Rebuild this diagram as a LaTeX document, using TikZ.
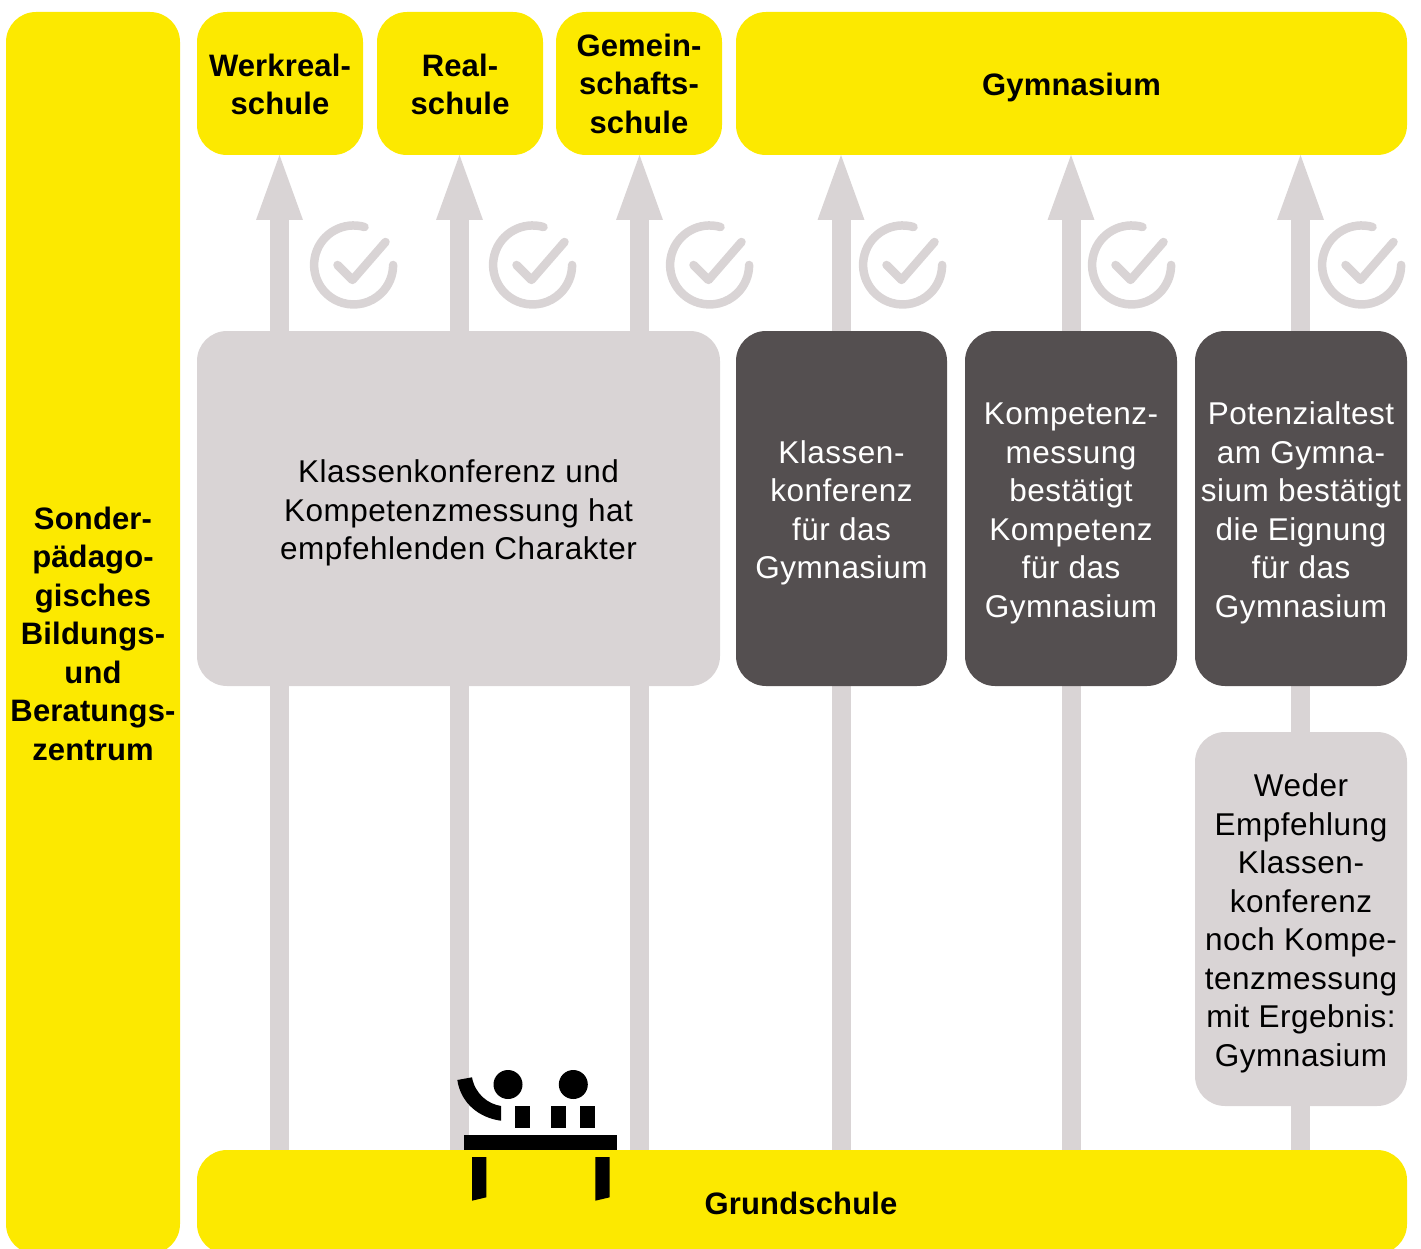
\documentclass[tikz,border=0pt]{standalone}
\usepackage{fontspec}
\setmainfont{Liberation Sans}[LetterSpace=1.6,BoldFeatures={LetterSpace=0.5}]
\usetikzlibrary{arrows.meta}
\definecolor{ylw}{HTML}{FCE900}
\definecolor{lgt}{HTML}{D9D4D5}
\definecolor{drk}{HTML}{544F50}
\tikzset{
  box/.style={rounded corners=30pt,inner sep=0pt,outer sep=0pt,align=center,anchor=north west},
  yellowbox/.style={box,fill=ylw,font=\fontsize{31}{38.5}\selectfont\bfseries},
  lightbox/.style={box,fill=lgt,text=black,font=\fontsize{31.5}{38.5}\selectfont},
  darkbox/.style={box,fill=drk,text=white,font=\fontsize{31.5}{38.5}\selectfont},
  route/.style={draw=lgt,line width=19pt,-{Triangle[width=47pt,length=65pt,line width=0pt]}},
  tick/.style={draw=lgt,line width=8.5pt,line cap=round,line join=round},
  ink/.style={fill=black},
}
% empty first line that pushes a centred block of text down
\newcommand{\lift}[1]{\mbox{}\\[\dimexpr #1pt-38.5pt\relax]}
\newcommand{\checkmarkat}[2]{%
  \draw[tick] (#1+11,#2-38) arc[start angle=-74,end angle=-360,radius=39.5];
  \draw[tick] (#1-16,#2) -- (#1-1,#2+15) -- (#1+32,#2-23);
}
\begin{document}
\begin{tikzpicture}[x=1pt,y=-1pt]
\useasboundingbox (0,0) rectangle (1421,1249);
\clip (0,0) rectangle (1421,1249);
% top targets and start
\node[yellowbox,minimum width=166pt,minimum height=143pt] (wr) at (197,12) {\lift{24}Werkreal-\\schule};
\node[yellowbox,minimum width=166pt,minimum height=143pt] (rs) at (377,12) {\lift{24}Real-\\schule};
\node[yellowbox,minimum width=166pt,minimum height=143pt] (gm) at (556,12) {Gemein-\\schafts-\\schule};
\node[yellowbox,minimum width=671pt,minimum height=143pt] (gy) at (736,12) {\lift{29.5}Gymnasium};
\node[box,fill=ylw,minimum width=1210pt,minimum height=104pt] (gsbg) at (197,1150) {};
\node[font=\fontsize{31}{38.5}\selectfont\bfseries,inner sep=0pt] (gs) at (801,1203) {Grundschule};
\node[yellowbox,minimum width=174pt,minimum height=1242pt] (sbz) at (6,12) {};
\node[font=\fontsize{31}{38.5}\selectfont\bfseries,align=center,inner sep=0pt] (sbztext) at (93,633.5) {Sonder-\\pädago-\\gisches\\Bildungs-\\und\\Beratungs-\\zentrum};
% routes
\coordinate (s1) at (279.5,1150);
\coordinate (s2) at (459.5,1150);
\coordinate (s3) at (639.5,1150);
\coordinate (s4) at (841,1150);
\coordinate (s5) at (1071,1150);
\coordinate (s6) at (1300.5,1150);
\draw[route] (s1) -- (s1 |- wr.south);
\draw[route] (s2) -- (s2 |- rs.south);
\draw[route] (s3) -- (s3 |- gm.south);
\draw[route] (s4) -- (s4 |- gy.south);
\draw[route] (s5) -- (s5 |- gy.south);
\draw[route] (s6) -- (s6 |- gy.south);
% boxes
\node[lightbox,minimum width=523pt,minimum height=355pt] (kk) at (197,331) {\lift{32}Klassenkonferenz und\\Kompetenzmessung hat\\empfehlenden Charakter};
\node[darkbox,minimum width=211pt,minimum height=355pt] (d1) at (736,331) {\lift{31.5}Klassen-\\konferenz\\für das\\Gymnasium};
\node[darkbox,minimum width=212pt,minimum height=355pt] (d2) at (965,331) {\lift{31.5}Kompetenz-\\messung\\bestätigt\\Kompetenz\\für das\\Gymnasium};
\node[darkbox,minimum width=212pt,minimum height=355pt] (d3) at (1195,331) {\lift{31.5}Potenzialtest\\am Gymna-\\sium bestätigt\\die Eignung\\für das\\Gymnasium};
\node[lightbox,minimum width=212pt,minimum height=374pt] (wd) at (1195,732) {\lift{31.5}Weder\\Empfehlung\\Klassen-\\konferenz\\noch Kompe-\\tenzmessung\\mit Ergebnis:\\Gymnasium};
% checks
\checkmarkat{353.5}{265}
\checkmarkat{532.5}{265}
\checkmarkat{709.5}{265}
\checkmarkat{902.5}{265}
\checkmarkat{1131.5}{265}
\checkmarkat{1361.5}{265}
% table icon
\fill[ink] (508,1084.5) circle[radius=14.5];
\fill[ink] (573.3,1084.5) circle[radius=14.5];
\fill[ink] (515,1106) rectangle (530,1128);
\fill[ink] (551,1106) rectangle (566,1128);
\fill[ink] (580,1106) rectangle (595,1128);
\fill[ink] (464,1135) rectangle (617,1150);
\fill[ink] (472,1157) -- (486.3,1157) -- (486.3,1197.3) -- (472,1200.7) -- cycle;
\fill[ink] (595.3,1157) -- (609.7,1157) -- (609.7,1197.3) -- (595.3,1200.7) -- cycle;
\fill[ink] (457.3,1080) .. controls (461,1104) and (480,1118) .. (501,1120.7) -- (501,1106) .. controls (488,1104) and (475,1094) .. (472,1077.3) -- cycle;
\end{tikzpicture}
\end{document}
